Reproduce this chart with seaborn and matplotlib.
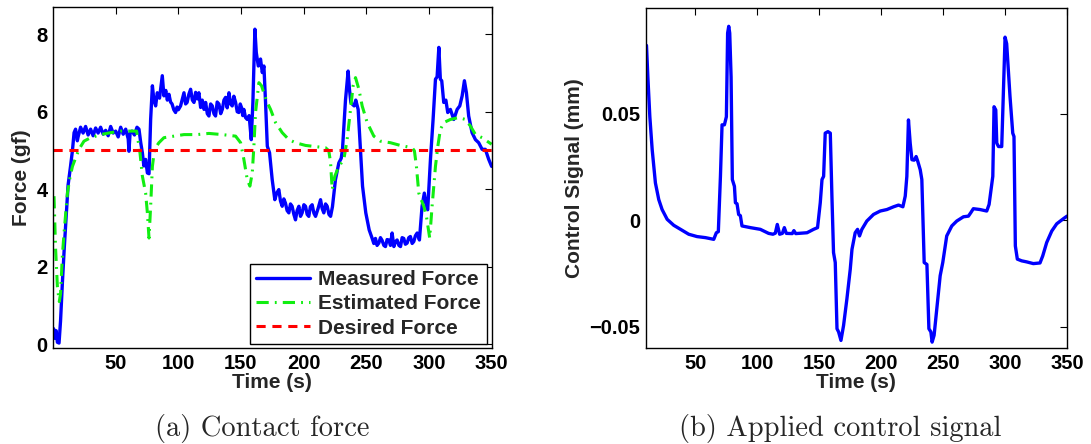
import matplotlib
matplotlib.use("Agg")
import matplotlib.pyplot as plt
import seaborn as sns

# ---- (a) contact force ----
measured_t = [0.5, 1.5, 2.5, 3.5, 4.8, 6, 7.5, 9, 10.3, 12, 14, 15.5, 16.8,
              18, 19.4, 20, 22, 24, 26, 28, 30, 32, 34, 36, 38, 40, 42, 44, 46, 48,
              50, 52, 54, 56, 58, 60, 60.6, 61.5, 63, 65, 67,
              68.6, 70, 71.3, 72.5, 73.9, 75.3, 76.6, 77.9, 79.3, 80.5,
              81.9, 83.2, 85, 87.2, 88.5, 90, 91.2, 92.5, 93.8, 95, 96.4, 97.8, 99,
              100, 101.8, 103, 104.5, 105.8, 107, 108.4, 109.8, 111.2, 112.5, 113.8,
              115.1, 116.4, 117.8, 119.1, 120.5, 121.8, 123.1, 124.4, 125.8, 127.1,
              128.4, 129.7, 131, 132.4, 133.8, 135.1, 136.4, 137.7, 139, 140.4, 141.7,
              143, 144.3, 145.7, 147, 148.3, 149.4, 150.5, 151.4, 152.3, 153.6,
              155, 156.5, 158.2, 159.5,
              161.1, 162.2, 163.8, 165.6, 167, 168.3, 169.6, 171, 172.8, 174.9, 177,
              178.5, 180.2, 181.5,
              182.9, 184.2, 185.5, 186.8, 188.2, 189.5, 190.8, 192.2, 193.5, 194.8,
              196.2, 197.5, 198.8, 200.2, 201.5, 202.8, 204.1, 205.4, 206.8, 208.2,
              209.5, 211.5, 213.5, 214.8, 216.1, 217.5, 218.8, 220.2, 221.5, 223,
              225.4, 228.1, 230, 231, 233.4, 235.5, 236.5, 237.7, 240.3, 241.6, 243.5,
              245, 247, 249.6, 252.3, 254.7,
              256, 257.3, 258.6, 260, 261.3, 262.6, 264, 265.3, 266.6, 268, 269.3,
              270.6, 272, 273.3, 274.6, 276, 277.3, 278.6, 279.9, 281.2, 282.6, 283.9,
              285.2, 286.6, 287.9, 289.2, 290.6, 292.4,
              294.5, 296.3, 298, 299, 301.2, 303.3, 305.2, 306.5, 307.9, 309.1, 310.2,
              311.8, 313.5, 315, 317.1, 319.8, 322.5, 324.6, 326.5, 328.3, 329.9,
              331.7, 334.4, 337.1, 339.7, 342.4, 345, 347.7, 350]
measured_f = [0.4, 0.15, 0.35, 0.05, 0.03, 0.6, 1.6, 2.5, 3.2, 4.1, 4.6, 5.0, 5.46,
              5.55, 5.25, 5.35, 5.6, 5.45, 5.62, 5.4, 5.55, 5.38, 5.58, 5.45, 5.6, 5.42, 5.52, 5.38, 5.62, 5.45,
              5.5, 5.35, 5.6, 5.42, 5.55, 5.3, 4.98, 5.45, 5.5, 5.4, 5.6,
              5.55, 5.2, 4.94, 4.6, 4.77, 4.42, 4.4, 5.8, 6.67, 6.3,
              6.15, 6.49, 6.35, 6.93, 6.41, 6.55, 6.3, 6.45, 6.25, 6.2, 6.05, 5.98, 6.12,
              6.05, 6.15, 6.3, 6.49, 6.2, 6.24, 6.45, 6.58, 6.3, 6.24, 6.5,
              6.33, 6.49, 6.11, 6.3, 6.06, 6.24, 5.95, 5.89, 6.2, 6.15,
              5.95, 5.89, 6.25, 6.2, 5.95, 6.06, 6.3, 6.37, 6.1, 6.49, 6.2,
              6.15, 6.4, 6.24, 6.0, 5.98, 6.2, 6.1, 5.9, 6.06, 5.85,
              5.8, 5.9, 5.28, 6.24,
              8.13, 7.53, 7.18, 7.36, 7.01, 7.18, 6.24, 5.11, 4.94, 4.25, 3.73,
              3.9, 3.99, 3.7,
              3.56, 3.75, 3.64, 3.45, 3.39, 3.62, 3.56, 3.35, 3.21, 3.45,
              3.56, 3.3, 3.39, 3.6, 3.56, 3.35, 3.3, 3.55, 3.6, 3.38,
              3.3, 3.5, 3.73, 3.5, 3.39, 3.62, 3.56, 3.35, 3.3, 3.55,
              4.25, 4.68, 4.8, 5.03, 6.3, 7.05, 6.6, 6.23, 6.15, 6.3, 6.06,
              5.2, 4.08, 3.39, 2.95, 2.73,
              2.6, 2.73, 2.55, 2.61, 2.75, 2.68, 2.55, 2.52, 2.7, 2.69, 2.55,
              2.87, 2.52, 2.65, 2.69, 2.55, 2.52, 2.75, 2.73, 2.58, 2.61, 2.75,
              2.78, 2.6, 2.65, 2.8, 2.87, 2.69,
              3.56, 3.9, 3.56, 3.47, 4.77, 5.8, 6.84, 6.9, 7.66, 6.84, 6.8,
              6.24, 6.3, 5.98, 6.06, 5.8, 6.06, 6.15, 6.41, 6.8, 6.49,
              5.89, 5.46, 5.28, 5.2, 5.03, 5.03, 4.77, 4.59]

estimated_t = [0.8, 2, 3.5, 5, 6, 7.5, 8.8, 11.5, 13.5, 15.5, 17.6, 20.7, 24.7, 30, 38,
               46, 54, 62, 66.7, 69.4, 71.3, 73.9, 75.3, 76.6, 77.9, 79.3, 81, 84.5,
               88.5, 96.5, 104.5, 115, 124.4, 135.1, 145.7, 149.7, 152.3, 155, 157.1,
               159, 160.3, 161.6, 164.3, 166.4, 168.2, 170.9, 173.6, 177.6, 182.9,
               188.2, 193.5, 201.5, 209.5, 217.5, 220.1, 221.5, 222.8, 224.9, 228.1,
               232.1, 234.7, 237.4, 239.5, 241.4, 244.1, 246.7, 250.7, 256, 261.3,
               269.3, 277.2, 286.6, 288.4, 290, 291.9, 293.8, 295.9, 298, 300.6,
               302.5, 305.2, 307.1, 309.1, 311.8, 317.1, 323.8, 329.1, 333.1, 337.1,
               342.4, 346.4, 350]
estimated_f = [3.82, 2.5, 1.48, 1.1, 1.3, 2.3, 2.87, 3.9, 4.3, 4.59, 4.77, 5.03, 5.24, 5.33, 5.41,
               5.46, 5.5, 5.5, 5.5, 4.94, 4.34, 3.9, 3.39, 2.74, 3.56, 4.59, 5.03, 5.2,
               5.33, 5.37, 5.41, 5.41, 5.44, 5.41, 5.37, 5.2, 4.77, 4.25, 4.08,
               4.42, 5.11, 5.98, 6.75, 6.67, 6.49, 6.24, 6.06, 5.72, 5.46,
               5.28, 5.2, 5.13, 5.1, 5.07, 4.99, 4.68, 3.99, 4.34, 4.59,
               4.77, 5.28, 6.06, 6.67, 6.88, 6.58, 6.15, 5.72, 5.37, 5.24,
               5.2, 5.13, 5.07, 4.99, 4.59, 3.9, 3.73, 3.56, 3.3, 2.74,
               3.56, 4.59, 5.11, 5.54, 5.72, 5.8, 5.85, 5.8, 5.63, 5.41,
               5.33, 5.24, 5.16]

desired_t = [0, 350]
desired_f = [5, 5]

# ---- (b) applied control signal ----
control_t = [10.5, 11.6, 13.2, 15.1, 17.7, 20.4, 23.1, 27.2, 32.5, 37.9, 44.6, 51.3, 58.1,
             64.8, 66.9, 68.5, 70.2, 71.5, 73.4, 75, 76, 76.9, 77.7, 78.8, 79.8, 81.5, 82.3,
             83.6, 84.9, 86.3, 87.6, 94.4, 102.4, 109.1, 112.6, 114.5, 116.1, 118,
             120.2, 121.8, 123.4, 128.2, 129.5, 131, 140.1, 145.4, 148.6, 150.8, 152.2,
             153.5, 154.8, 157, 158.9, 160.2, 161.5, 162.9, 164.3, 165.6, 167.5, 169.6,
             172.3, 175, 176.4, 179, 180.9, 182.5, 184.4, 188.4, 193.8, 199.2, 204.6,
             210, 214, 217.5, 219.4, 220.7, 222, 223.4, 224.8, 226.6, 228.2, 229.6,
             231.5, 232.8, 234.7, 236.9, 238.5, 240.1, 241.1, 242.7, 244.9, 247.6,
             249.7, 252.9, 257, 261, 266.4, 270.4, 272.3, 274.4, 279.8, 285.2, 287.1,
             288.5, 290.1, 291.1, 292.5, 293.3, 294.7, 297.3, 298.6, 300, 301.3, 304,
             306.2, 307.2, 308.3, 309.9, 313.4, 317.5, 322.8, 328.2, 330.4, 333.6,
             337.7, 341.7, 347.1, 350]
control_mm = [0.0822, 0.0674, 0.0487, 0.0332, 0.0176, 0.0098, 0.0051, 0.0005, -0.0023,
              -0.0042, -0.0065, -0.0076, -0.0081, -0.0089, -0.0058, -0.0053, 0.0207,
              0.0449, 0.0449, 0.0487, 0.088, 0.0912, 0.088, 0.0674, 0.0192, 0.016, 0.0083,
              0.0078, 0.0028, 0.0022, -0.0026, -0.0034, -0.0042, -0.0061, -0.0065,
              -0.006, -0.0019, -0.0065, -0.0061, -0.0034, -0.0061, -0.0062, -0.0048,
              -0.0062, -0.0058, -0.0042, -0.0034, 0.0083, 0.0192, 0.0207, 0.041,
              0.0417, 0.041, 0.0114, -0.0151, -0.0198, -0.0509, -0.0524, -0.0564,
              -0.0494, -0.0369, -0.023, -0.0136, -0.0058, -0.0042, -0.0073, -0.0042,
              -0.0003, 0.0028, 0.0044, 0.0051, 0.0064, 0.0072, 0.0064, 0.0114, 0.0207,
              0.0472, 0.0363, 0.0285, 0.0283, 0.030, 0.0276, 0.0238, 0.0192, -0.0198,
              -0.0207, -0.0509, -0.0524, -0.0572, -0.054, -0.0416, -0.026, -0.0198,
              -0.0073, -0.0026, -0.0003, 0.0017, 0.002, 0.0036, 0.0055, 0.0051, 0.0044,
              0.0075, 0.0137, 0.0207, 0.0534, 0.0519, 0.0363, 0.0347, 0.0347, 0.0597,
              0.0861, 0.083, 0.0581, 0.041, 0.0394, -0.012, -0.0182, -0.019, -0.0195,
              -0.0203, -0.020, -0.0167, -0.0104, -0.005, -0.0016, 0.0008, 0.002]

time_ticks = [50, 100, 150, 200, 250, 300, 350]
force_ticks = [0, 2, 4, 6, 8]
control_ticks = [-0.05, 0, 0.05]
control_tick_labels = ['\u22120.05', '0', '0.05']

sns.set_theme(style="white")
plt.rcParams['font.family'] = ['Liberation Sans', 'DejaVu Sans']
plt.rcParams['axes.edgecolor'] = 'black'
plt.rcParams['axes.linewidth'] = 1.0

fig = plt.figure(figsize=(10.91, 4.44), dpi=100)
ax1 = fig.add_axes([0.0486, 0.216, 0.402, 0.768])
ax2 = fig.add_axes([0.592, 0.216, 0.386, 0.766])

# contact force
sns.lineplot(x=measured_t, y=measured_f, ax=ax1, color='#0000ff', linewidth=2.4,
             estimator=None, sort=False, label='Measured Force')
sns.lineplot(x=estimated_t, y=estimated_f, ax=ax1, color='#11ee11', linewidth=2.2,
             estimator=None, sort=False, linestyle=(0, (4, 2, 0.6, 2)),
             label='Estimated Force')
sns.lineplot(x=desired_t, y=desired_f, ax=ax1, color='#ff0000', linewidth=2.2,
             estimator=None, sort=False, linestyle=(0, (3, 2.2)), label='Desired Force')
ax1.set_xlim(0, 350)
ax1.set_ylim(-0.1, 8.7)
ax1.set_xticks(time_ticks)
ax1.set_yticks(force_ticks)
ax1.set_xlabel('Time (s)', fontsize=15, fontweight='bold', labelpad=0)
ax1.set_ylabel('Force (gf)', fontsize=15, fontweight='bold', labelpad=4)
leg = ax1.legend(loc='lower right', frameon=True, fancybox=False,
                 edgecolor='black', framealpha=1, handlelength=2.6,
                 labelspacing=0.25, borderpad=0.3, borderaxespad=0.2,
                 handletextpad=0.4, prop={'weight': 'bold', 'size': 15})
leg.get_frame().set_linewidth(1.0)

# control signal
sns.lineplot(x=control_t, y=control_mm, ax=ax2, color='#0000ff', linewidth=2.4,
             estimator=None, sort=False)
ax2.set_xlim(10, 350)
ax2.set_ylim(-0.06, 0.0998)
ax2.set_xticks(time_ticks)
ax2.set_yticks(control_ticks)
ax2.set_yticklabels(control_tick_labels)
ax2.set_xlabel('Time (s)', fontsize=15, fontweight='bold', labelpad=0)
ax2.set_ylabel('Control Signal (mm)', fontsize=15, fontweight='bold', labelpad=4)

for ax in (ax1, ax2):
    ax.tick_params(direction='in', top=True, right=True, length=5, width=0.8,
                   labelsize=14.5, pad=4, colors='black')
    for lab in ax.get_xticklabels() + ax.get_yticklabels():
        lab.set_fontweight('bold')
    for sp in ax.spines.values():
        sp.set_color('black')

fig.text(262 / 1091, 0.034, '(a) Contact force', family='cmr10', fontsize=20.5,
         ha='center', va='center')
fig.text(840 / 1091, 0.034, '(b) Applied control signal', family='cmr10', fontsize=20.5,
         ha='center', va='center')

fig.savefig('out.png', dpi=100, facecolor='white')
